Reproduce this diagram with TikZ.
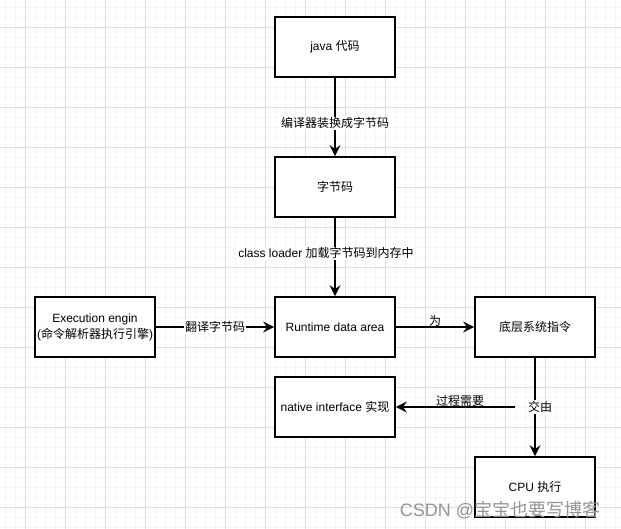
\documentclass[tikz,border=0pt]{standalone}
\usepackage{fontspec}
\setmainfont{Liberation Sans}
\newfontfamily\cjk{Noto Sans CJK SC}
\usetikzlibrary{arrows.meta}
\begin{document}
\begin{tikzpicture}[x=1pt,y=-1pt,
  box/.style={draw,line width=1.8pt,fill=white,minimum width=120pt,minimum height=60pt,
    inner sep=0pt,align=center,font=\fontsize{12}{16}\selectfont},
  conn/.style={line width=1.8pt,-{Stealth[length=11pt,width=11pt,inset=4pt]}},
  lbl/.style={fill=white,inner sep=1pt,font=\fontsize{12}{14}\selectfont},
  toplbl/.style={inner sep=0pt,font=\fontsize{12}{14}\selectfont},
  minorgrid/.style={draw=black!4,line width=0.8pt},
  majorgrid/.style={draw=black!13,line width=0.8pt}]
\useasboundingbox (0,0) rectangle (621,529);
\fill[white] (0,0) rectangle (621,529);
% grid
\foreach \x in {5,15,...,615} \draw[minorgrid] (\x,0) -- (\x,529);
\foreach \y in {7,17,...,527} \draw[minorgrid] (0,\y) -- (621,\y);
\foreach \x in {25,65,...,615} \draw[majorgrid] (\x,0) -- (\x,529);
\foreach \y in {27,67,...,527} \draw[majorgrid] (0,\y) -- (621,\y);
% nodes
\node[box] (java) at (335,47) {java {\cjk 代码}};
\node[box] (bc) at (335,187) {\cjk 字节码};
\node[box] (rt) at (335,327) {Runtime data area};
\node[box] (ex) at (95,327) {Execution engin\\({\cjk 命令解析器执行引擎})};
\node[box] (os) at (535,327) {\cjk 底层系统指令};
\node[box] (ni) at (335,407) {native interface {\cjk 实现}};
\node[box] (cpu) at (535,487) {CPU {\cjk 执行}};
% connectors
\draw[conn] (java) -- node[lbl,pos=0.58] {\cjk 编译器装换成字节码} (bc);
\draw[conn] (bc) -- node[lbl,pos=0.45,xshift=-9pt] {class loader {\cjk 加载字节码到内存中}} (rt);
\draw[conn] (ex) -- node[lbl] {\cjk 翻译字节码} (rt);
\draw[conn] (rt) -- (os);
\node[toplbl] (wei) at (435,321) {\cjk 为};
\draw[conn] (os) -- node[lbl,xshift=5pt] (jy) {\cjk 交由} (cpu);
\coordinate (jys) at (515,407);
\draw[conn] (jys) -- (ni);
\node[toplbl] (gc) at (460,401) {\cjk 过程需要};
% watermark
\node[inner sep=0pt,text=black!42,font=\fontsize{18}{20}\selectfont] (wm) at (500,510) {CSDN @{\cjk 宝宝也要写博客}};
\end{tikzpicture}
\end{document}
